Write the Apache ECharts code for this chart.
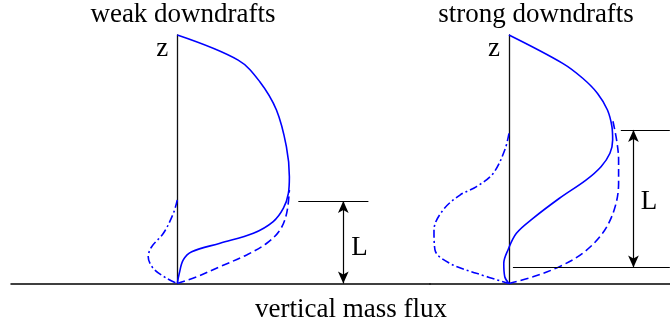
<!DOCTYPE html>
<html>
<head>
<meta charset="utf-8">
<script src="https://cdn.jsdelivr.net/npm/echarts@6/dist/echarts.min.js"></script>
<style>
  html, body { margin: 0; padding: 0; background: #fff; }
  #chart { width: 670px; height: 323px; }
</style>
</head>
<body>
<div id="chart"></div>
<script>
// profiles: [mass flux, height z], z = 0 at ground, 100 at the top of the axis
const weakSolid = [[0, 100], [24.5, 89.9], [33.2, 81.2], [39.9, 69.8], [43.9, 55.1], [45.1, 43.0], [44.7, 36.3],
  [42.7, 30.3], [38.6, 24.9], [30.6, 20.2], [17.2, 16.2], [5.8, 12.8], [2.4, 9.5], [0.8, 4.1], [0, 0]];
const weakDashed = [[0, 0], [7.8, 2.7], [17.2, 6.8], [27.9, 11.5], [36.0, 16.2], [41.3, 21.5], [44.0, 28.2], [45.1, 37.6]];
const weakDashDot = [[0, 33.6], [-1.6, 28.2], [-5.6, 20.2], [-10.3, 14.8], [-11.7, 10.8], [-9.7, 6.1], [-4.3, 2.1], [0, 0]];

const strongSolid = [[0, 100], [21.7, 88.6], [29.8, 82.6], [35.8, 76.5], [39.8, 69.8], [41.6, 63.1], [41.9, 57.7],
  [40.8, 52.4], [37.2, 47.0], [31.1, 41.6], [20.4, 34.3], [9.7, 26.2], [3.0, 20.2], [-0.4, 13.5], [-2.1, 8.1],
  [-1.7, 2.7], [0, 0]];
const strongDashed = [[0, 0], [9.7, 2.7], [20.4, 6.8], [29.8, 12.2], [37.8, 20.2], [42.5, 29.6], [44.3, 40.3],
  [44.3, 49.7], [43.5, 57.7], [41.9, 65.8]];
const strongDashDot = [[0, 60.4], [-1.7, 53.7], [-6.4, 44.3], [-13.1, 39.0], [-19.8, 35.6], [-26.6, 29.6],
  [-30.3, 21.5], [-29.9, 13.5], [-23.9, 8.1], [-13.1, 4.1], [0, 0]];

// depth scale L
const weakLLevel = [[48.7, 33.2], [76.9, 33.2]];
const weakLArrow = [[66.8, 33.2], [66.8, 0]];
const weakLLabel = [[73.3, 14.3]];
const strongLTop = [[45.2, 61.8], [65, 61.8]];
const strongLBottom = [[1.6, 6.4], [65, 6.4]];
const strongLArrow = [[50.3, 61.8], [50.3, 6.4]];
const strongLLabel = [[56.6, 32.8]];

const titles = ["weak downdrafts", "strong downdrafts"];
const xTitle = "vertical mass flux";

const FONT = "Liberation Serif";
const BLUE = "#0000ff";
const UNIT = 2.485; // px per unit
const axisPx = [177.3, 509.3];
const gridPx = [[11, 419], [430, 241]]; // left, width

let chart = echarts.init(document.getElementById("chart"), null, { renderer: "canvas" });

function xRange(i) {
  let min = -(axisPx[i] - gridPx[i][0]) / UNIT;
  return { min: min, max: min + gridPx[i][1] / UNIT };
}

function axes(i) {
  let r = xRange(i);
  return {
    x: {
      type: "value", gridIndex: i, min: r.min, max: r.max,
      splitLine: { show: false }, axisTick: { show: false }, axisLabel: { show: false },
      axisLine: { show: true, onZero: true, lineStyle: { color: "#000", width: 1.5 } },
    },
    y: {
      type: "value", gridIndex: i, min: 0, max: 100,
      splitLine: { show: false }, axisTick: { show: false }, axisLabel: { show: false },
      axisLine: { show: true, onZero: true, lineStyle: { color: "#111", width: 1.3 } },
      name: "z", nameLocation: "end", nameGap: -27,
      nameTextStyle: { fontFamily: FONT, fontSize: 27, color: "#000", align: "right", padding: [0, 9, 0, 0] },
    },
  };
}

function curve(data, i, type) {
  return {
    type: "line", data: data, xAxisIndex: i, yAxisIndex: i,
    smooth: 0.35, symbol: "none", clip: false, silent: true,
    lineStyle: { color: BLUE, width: 1.6, type: type },
    z: 3,
  };
}

function seg(pts, arrow) {
  return [
    { coord: pts[0], symbol: arrow ? "arrow" : "none" },
    { coord: pts[1], symbol: arrow ? "arrow" : "none" },
  ];
}

function scale(i, lines, arrows, label) {
  return {
    type: "scatter", data: label, xAxisIndex: i, yAxisIndex: i,
    symbolSize: 0, clip: false, silent: true,
    itemStyle: { opacity: 1, color: "#000" },
    label: {
      show: true, formatter: "L", position: "inside", fontFamily: FONT, fontSize: 27,
      color: "#000", opacity: 1, textBorderWidth: 0,
    },
    markLine: {
      silent: true, animation: false, symbolSize: [8, 12],
      label: { show: false },
      lineStyle: { color: "#000", width: 1.2, type: "solid", opacity: 1 },
      data: lines.map((p) => seg(p, false)).concat(arrows.map((p) => seg(p, true))),
    },
  };
}

let a0 = axes(0), a1 = axes(1);

let option = {
  backgroundColor: "#fff",
  animation: false,
  title: [
    { text: titles[0], left: 178, top: -4, textAlign: "center",
      textStyle: { fontFamily: FONT, fontSize: 27, fontWeight: "normal", color: "#000" } },
    { text: titles[1], left: 531, top: -4, textAlign: "center",
      textStyle: { fontFamily: FONT, fontSize: 27, fontWeight: "normal", color: "#000" } },
    { text: xTitle, left: 346, top: 291, textAlign: "center",
      textStyle: { fontFamily: FONT, fontSize: 27, fontWeight: "normal", color: "#000" } },
  ],
  grid: [
    { left: gridPx[0][0], width: gridPx[0][1], top: 35, height: 248.5 },
    { left: gridPx[1][0], width: gridPx[1][1], top: 35, height: 248.5 },
  ],
  xAxis: [a0.x, a1.x],
  yAxis: [a0.y, a1.y],
  series: [
    curve(weakSolid, 0, "solid"),
    curve(weakDashed, 0, [8, 4]),
    curve(weakDashDot, 0, [8, 3, 2, 3]),
    curve(strongSolid, 1, "solid"),
    curve(strongDashed, 1, [8, 4]),
    curve(strongDashDot, 1, [8, 3, 2, 3]),
    scale(0, [weakLLevel], [weakLArrow], weakLLabel),
    scale(1, [strongLTop, strongLBottom], [strongLArrow], strongLLabel),
  ],
};

chart.setOption(option);
</script>
</body>
</html>
